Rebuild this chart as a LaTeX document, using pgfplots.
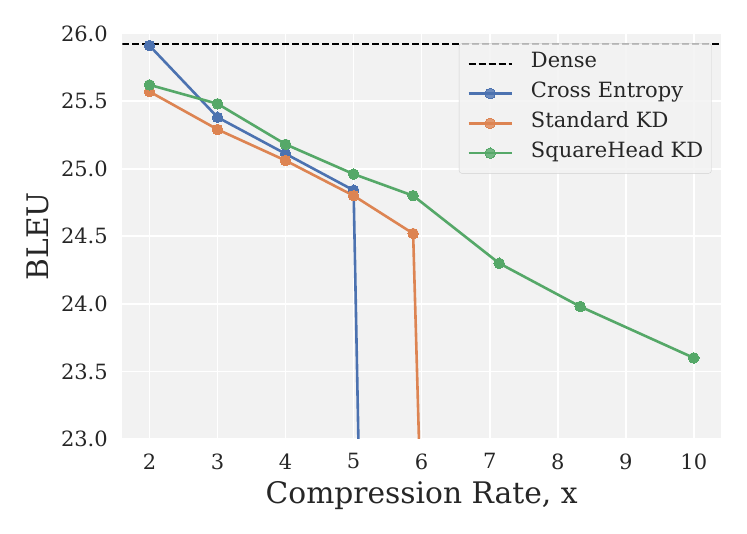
\documentclass[border=0pt]{standalone}
\usepackage{fontspec}
\setmainfont{DejaVu Serif}
\usepackage{pgfplots}
\pgfplotsset{compat=1.18}
\definecolor{bgc}{HTML}{F2F2F2}
\definecolor{txt}{HTML}{262626}
\definecolor{cblue}{HTML}{4C72B0}
\definecolor{corange}{HTML}{DD8452}
\definecolor{cgreen}{HTML}{55A868}
\begin{document}
\begin{tikzpicture}
\path[use as bounding box] (0,0) rectangle (747pt,534pt);
\begin{axis}[
  at={(122.3pt,95pt)}, anchor=south west,
  width=598.7pt, height=405.5pt, scale only axis,
  xmin=1.6, xmax=10.4, ymin=23, ymax=26,
  xtick={2,3,...,10}, ytick={23,23.5,...,26},
  axis background/.style={fill=bgc},
  axis line style={draw=none},
  major tick length=0pt,
  grid=major, major grid style={white, line width=1.7pt},
  tick label style={font=\fontsize{21}{25}\selectfont, text=txt},
  xticklabel style={yshift=-11pt},
  yticklabel style={xshift=-11pt, /pgf/number format/fixed, /pgf/number format/fixed zerofill, /pgf/number format/precision=1},
  /pgf/number format/assume math mode=true,
  xlabel={Compression Rate, x}, ylabel={BLEU},
  label style={font=\fontsize{29.7}{34}\selectfont, text=txt},
  xlabel style={at={(axis description cs:0.5,-0.158)}, anchor=base},
  ylabel style={at={(axis description cs:-0.1413,0.5)}, anchor=center},
  legend style={at={(0.9845,0.976)}, anchor=north east, draw=black!18, fill=bgc, fill opacity=0.8, text opacity=1, rounded corners=3pt, font=\fontsize{21}{25}\selectfont, text=txt, inner xsep=8.3pt, inner ysep=8.3pt, row sep=5.8pt, column sep=18pt, nodes={inner sep=0pt, text height=16pt, text depth=8pt}},
  legend cell align=left,
  legend image code/.code={\draw[#1, mark=none] (0pt,0pt) -- (43pt,0pt);
    \path[#1] plot[mark indices={}] coordinates {(21.5pt,0pt)};},
]
\addplot[black, line width=2.3pt, dash pattern=on 7pt off 3pt] coordinates {(1.6,25.92) (10.4,25.92)};
\addlegendentry{Dense}
\addplot[cblue, line width=2.6pt, mark=*, mark size=5.3pt, mark options={solid, fill=cblue, draw=cblue, line width=0pt}, mark indices={1,2,3,4}] coordinates {(2,25.91) (3,25.38) (4,25.11) (5,24.84) (5.072,22.95)};
\addlegendentry{Cross Entropy}
\addplot[corange, line width=2.6pt, mark=*, mark size=5.3pt, mark options={solid, fill=corange, draw=corange, line width=0pt}, mark indices={1,2,3,4,5}] coordinates {(2,25.57) (3,25.29) (4,25.06) (5,24.80) (5.875,24.52) (5.963,22.95)};
\addlegendentry{Standard KD}
\addplot[cgreen, line width=2.6pt, mark=*, mark size=5.3pt, mark options={solid, fill=cgreen, draw=cgreen, line width=0pt}] coordinates {(2,25.62) (3,25.48) (4,25.18) (5,24.96) (5.875,24.80) (7.14,24.30) (8.33,23.98) (10,23.60)};
\addlegendentry{SquareHead KD}
\end{axis}
\end{tikzpicture}
\end{document}
